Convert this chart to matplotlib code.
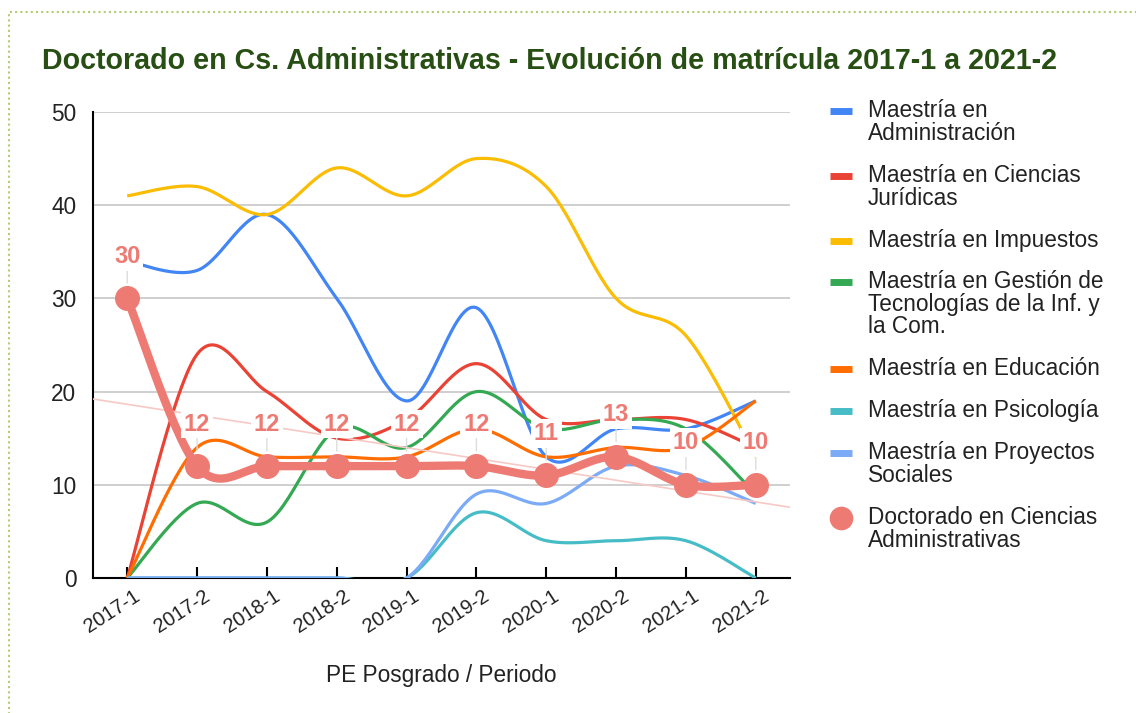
import numpy as np
import matplotlib.pyplot as plt
from matplotlib.lines import Line2D
from matplotlib.patches import Rectangle
from matplotlib.transforms import ScaledTranslation

plt.rcParams['font.family'] = ['Liberation Sans', 'DejaVu Sans']

periodos = ['2017-1', '2017-2', '2018-1', '2018-2', '2019-1',
            '2019-2', '2020-1', '2020-2', '2021-1', '2021-2']

administracion = [34, 33, 39, 30, 19, 29, 13, 16, 16, 19]
ciencias_juridicas = [0, 24, 20, 15, 17, 23, 17, 17, 17, 14]
impuestos = [41, 42, 39, 44, 41, 45, 42, 30, 26, 13]
gestion_tic = [0, 8, 6, 16, 14, 20, 16, 17, 16, 9]
educacion = [0, 14, 13, 13, 13, 16, 13, 14, 14, 19]
psicologia = [0, 0, 0, 0, 0, 7, 4, 4, 4, 0]
proyectos_sociales = [0, 0, 0, 0, 0, 9, 8, 12, 11, 8]
doctorado = [30, 12, 12, 12, 12, 12, 11, 13, 10, 10]

series = [
    ('Maestría en\nAdministración', administracion, '#4285F4'),
    ('Maestría en Ciencias\nJurídicas', ciencias_juridicas, '#EA4335'),
    ('Maestría en Impuestos', impuestos, '#FBBC04'),
    ('Maestría en Gestión de\nTecnologías de la Inf. y\nla Com.', gestion_tic, '#34A853'),
    ('Maestría en Educación', educacion, '#FF6D01'),
    ('Maestría en Psicología', psicologia, '#46BDC6'),
    ('Maestría en Proyectos\nSociales', proyectos_sociales, '#7BAAF7'),
]
doc_label = 'Doctorado en Ciencias\nAdministrativas'
doc_color = '#EE7B73'


def smooth(y, n=30):
    # catmull-rom style curve through the points (like curveType 'function')
    x = np.arange(len(y), dtype=float)
    y = np.asarray(y, dtype=float)
    xs, ys = [], []
    for i in range(len(y) - 1):
        i0, i3 = max(i - 1, 0), min(i + 2, len(y) - 1)
        mx1 = (x[i + 1] - x[i0]) / 6
        my1 = (y[i + 1] - y[i0]) / 6
        mx2 = (x[i3] - x[i]) / 6
        my2 = (y[i3] - y[i]) / 6
        p = [(x[i], y[i]), (x[i] + mx1, y[i] + my1),
             (x[i + 1] - mx2, y[i + 1] - my2), (x[i + 1], y[i + 1])]
        t = np.linspace(0, 1, n)[:, None]
        pts = ((1 - t) ** 3 * p[0] + 3 * (1 - t) ** 2 * t * p[1]
               + 3 * (1 - t) * t ** 2 * p[2] + t ** 3 * p[3])
        xs.extend(pts[:, 0])
        ys.extend(pts[:, 1])
    return np.array(xs), np.array(ys)


fig = plt.figure(figsize=(11.36, 7.13), dpi=100)
ax = fig.add_axes([93 / 1136, 1 - 578 / 713, 697 / 1136, 466 / 713])

xi = np.arange(len(periodos))
for name, vals, col in series:
    sx, sy = smooth(vals)
    ax.plot(sx, sy, color=col, lw=2.3, solid_capstyle='butt', zorder=2)

# linear trendline for the doctorate
slope, inter = np.polyfit(xi, doctorado, 1)
tx = np.array([-0.49, 9.49])
ax.plot(tx, slope * tx + inter, color='#F6C9C5', lw=1.2, zorder=3)

sx, sy = smooth(doctorado)
ax.plot(sx, sy, color=doc_color, lw=6, zorder=4, solid_capstyle='round')
ax.plot(xi, doctorado, 'o', color=doc_color, ms=17, zorder=5)

# data labels
for x, v in zip(xi, doctorado):
    ax.annotate('', xy=(x, v), xycoords='data', xytext=(0, 30),
                textcoords='offset pixels',
                arrowprops=dict(arrowstyle='-', color='#DDDDDD', lw=1,
                                shrinkA=0, shrinkB=11), zorder=3.5)
    ax.annotate(str(v), xy=(x, v), xytext=(0, 42), textcoords='offset pixels',
                ha='center', va='center', fontsize=17, fontweight='bold',
                color=doc_color, zorder=6,
                bbox=dict(boxstyle='square,pad=0.12', fc='white', ec='none'))

ax.set_xlim(-0.49, 9.49)
ax.set_ylim(0, 50)
ax.set_yticks([0, 10, 20, 30, 40, 50])
ax.grid(axis='y', color='#CCCCCC', lw=1.3)
ax.set_axisbelow(True)
for s in ['top', 'right']:
    ax.spines[s].set_visible(False)
ax.spines['left'].set_linewidth(1.5)
ax.spines['bottom'].set_linewidth(1.5)
ax.spines['bottom'].set_zorder(1.5)
ax.tick_params(axis='y', length=0, pad=12, labelsize=16.3, labelcolor='#222222')
ax.tick_params(axis='x', direction='in', length=8, width=1.5, pad=6,
               labelsize=14.5, labelcolor='#222222')
ax.set_xticks(xi)
ax.set_xticklabels(periodos, rotation=33, ha='right', rotation_mode='anchor')
for lab in ax.get_xticklabels():
    lab.set_transform(lab.get_transform() + ScaledTranslation(0.06, 0, fig.dpi_scale_trans))
ax.set_xlabel('PE Posgrado / Periodo', fontsize=16.3, color='#222222', labelpad=20)

fig.text(42 / 1136, 1 - 61 / 713,
         'Doctorado en Cs. Administrativas - Evolución de matrícula 2017-1 a 2021-2',
         fontsize=20.6, fontweight='bold', color='#274E13', va='center', ha='left')

# legend on the right
leg_y = [111, 176, 241, 282, 369, 411, 453]
for (name, vals, col), yy in zip(series, leg_y):
    fig.add_artist(Line2D([830 / 1136, 852 / 1136], [1 - yy / 713] * 2,
                          color=col, lw=5, solid_capstyle='butt'))
    fig.text(868 / 1136, 1 - (yy - 12) / 713, name, fontsize=16.3,
             color='#222222', va='top', ha='left', linespacing=0.98)
fig.add_artist(Line2D([841 / 1136], [1 - 518 / 713], marker='o', ms=16,
                      color=doc_color, lw=0))
fig.text(868 / 1136, 1 - (518 - 12) / 713, doc_label, fontsize=16.3,
         color='#222222', va='top', ha='left', linespacing=0.98)

# dotted frame
fig.add_artist(Rectangle((9 / 1136, -0.1), 1.2, 1 - 12 / 713 + 0.1,
                         transform=fig.transFigure, fill=False,
                         ec='#B4CC72', lw=1.5, ls=(0, (1, 1.5))))

fig.savefig('out.png', dpi=100, facecolor='white')
